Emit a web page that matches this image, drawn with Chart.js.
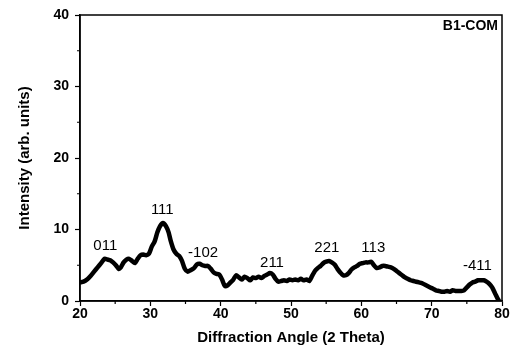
<!DOCTYPE html>
<html>
<head>
<meta charset="utf-8">
<script src="https://cdn.jsdelivr.net/npm/chart.js@4/dist/chart.umd.min.js"></script>
<style>
  html, body { margin: 0; padding: 0; background: #fff; }
  #wrap { width: 511px; height: 349px; position: relative; }
</style>
</head>
<body>
<div id="wrap"><canvas id="c" width="511" height="349"></canvas></div>
<script>
// 2-theta angles (degrees)
const angles = [20.0,20.5,21.0,21.5,22.0,22.5,23.0,23.5,23.9,24.3,24.7,25.1,25.5,25.8,26.2,26.6,27.0,27.4,27.8,28.2,28.6,29.0,29.4,29.8,30.2,30.6,31.0,31.4,31.8,32.2,32.6,32.9,33.3,33.7,34.1,34.5,34.9,35.3,35.7,36.2,36.6,37.0,37.4,37.8,38.2,38.6,39.0,39.4,39.8,40.2,40.6,41.0,41.4,41.8,42.2,42.6,43.0,43.4,43.8,44.2,44.6,45.0,45.4,45.8,46.2,46.6,47.0,47.4,47.8,48.2,48.6,49.0,49.4,49.8,50.2,50.6,51.0,51.4,51.8,52.2,52.6,53.0,53.4,53.8,54.2,54.6,55.0,55.4,55.8,56.2,56.6,57.0,57.4,57.8,58.2,58.6,59.0,59.4,59.8,60.2,60.6,61.0,61.4,61.8,62.2,62.6,63.0,63.4,63.8,64.2,64.6,65.0,65.4,65.8,66.2,66.6,67.0,67.4,67.8,68.2,68.6,69.0,69.4,69.8,70.2,70.6,71.0,71.4,71.8,72.2,72.6,73.0,73.4,73.8,74.2,74.6,75.0,75.4,75.8,76.2,76.6,77.0,77.4,77.8,78.2,78.6,79.0,79.4,79.6];
// Intensity (arb. units)
const intensity = [2.6,2.7,3.0,3.5,4.1,4.7,5.3,5.9,5.8,5.7,5.4,5.0,4.5,4.7,5.4,5.8,5.9,5.6,5.3,5.9,6.4,6.5,6.4,6.6,7.6,8.3,9.6,10.5,10.9,10.5,9.6,8.4,7.2,6.6,6.3,5.6,4.5,4.1,4.3,4.6,5.1,5.2,5.0,4.9,4.9,4.5,4.0,3.8,3.7,3.0,2.1,2.2,2.6,3.0,3.6,3.3,3.0,3.4,3.2,2.9,3.3,3.2,3.4,3.2,3.5,3.7,3.9,3.7,3.1,2.7,2.8,2.9,2.8,3.0,2.9,3.0,2.9,3.1,2.9,3.0,2.8,3.5,4.2,4.6,4.9,5.3,5.5,5.6,5.4,5.1,4.5,4.0,3.6,3.6,3.9,4.4,4.7,4.9,5.2,5.3,5.4,5.4,5.5,5.0,4.6,4.7,4.9,4.9,4.8,4.7,4.5,4.2,3.9,3.6,3.3,3.1,2.9,2.8,2.7,2.6,2.5,2.3,2.1,1.9,1.7,1.5,1.4,1.3,1.3,1.4,1.3,1.5,1.4,1.4,1.4,1.5,1.9,2.3,2.6,2.7,2.9,2.9,2.9,2.7,2.4,1.9,1.1,0.3,0.0];
// Peak (hkl) labels and their positions in data units
const peakLabels = ["011","111","-102","211","221","113","-411"];
const peakX = [23.6,31.7,37.5,47.3,55.1,61.7,76.5];
const peakY = [7.7,12.7,6.8,5.4,7.4,7.4,4.9];
const xTicks = [20,30,40,50,60,70,80];
const yTicks = [0,10,20,30,40];
const sampleName = "B1-COM";

const FONT = "Arial, 'Liberation Sans', Helvetica, sans-serif";

const decor = {
  id: 'decor',
  afterDraw(chart) {
    const ctx = chart.ctx, a = chart.chartArea;
    const xs = chart.scales.x, ys = chart.scales.y;
    ctx.save();
    ctx.strokeStyle = '#000';
    ctx.lineWidth = 1.5;
    ctx.strokeRect(a.left, a.top, a.right - a.left, a.bottom - a.top);
    // minor ticks
    ctx.lineWidth = 1.2;
    ctx.beginPath();
    for (let i = 0; i < xTicks.length - 1; i++) {
      const v = (xTicks[i] + xTicks[i + 1]) / 2;
      const px = xs.getPixelForValue(v);
      ctx.moveTo(px, a.bottom); ctx.lineTo(px, a.bottom + 3);
    }
    for (let i = 0; i < yTicks.length - 1; i++) {
      const v = (yTicks[i] + yTicks[i + 1]) / 2;
      const py = ys.getPixelForValue(v);
      ctx.moveTo(a.left, py); ctx.lineTo(a.left - 3, py);
    }
    ctx.stroke();
    // peak labels
    ctx.fillStyle = '#000';
    ctx.font = "15px " + FONT;
    ctx.textAlign = 'center';
    ctx.textBaseline = 'middle';
    for (let i = 0; i < peakLabels.length; i++) {
      ctx.fillText(peakLabels[i], xs.getPixelForValue(peakX[i]), ys.getPixelForValue(peakY[i]));
    }
    // sample name
    ctx.font = "bold 14px " + FONT;
    ctx.textAlign = 'right';
    ctx.fillText(sampleName, a.right - 4, a.top + 11);
    ctx.restore();
  }
};

new Chart(document.getElementById('c'), {
  type: 'scatter',
  data: {
    datasets: [{
      data: angles.map((x, i) => ({ x: x, y: intensity[i] })),
      showLine: true,
      borderColor: '#000',
      borderWidth: 4.5,
      pointRadius: 0,
      tension: 0.25,
      borderJoinStyle: 'round',
      borderCapStyle: 'round'
    }]
  },
  options: {
    responsive: false,
    animation: false,
    events: [],
    layout: { padding: { left: 0, top: 15, right: 9, bottom: 0 } },
    plugins: { legend: { display: false }, tooltip: { enabled: false } },
    scales: {
      x: {
        type: 'linear', min: 20, max: 80,
        afterBuildTicks: s => { s.ticks = xTicks.map(v => ({ value: v })); },
        afterFit: s => { s.height = 48; },
        ticks: { color: '#000', font: { family: FONT, size: 14, weight: 'bold' }, padding: 0, maxRotation: 0 },
        grid: { drawOnChartArea: false, tickLength: 5, color: '#000', tickWidth: 1.2 },
        border: { color: '#000', width: 1.5 },
        title: { display: true, text: 'Diffraction Angle (2 Theta)', color: '#000',
                 font: { family: FONT, size: 15, weight: 'bold' }, padding: { top: 0, bottom: 2 } }
      },
      y: {
        type: 'linear', min: 0, max: 40,
        afterBuildTicks: s => { s.ticks = yTicks.map(v => ({ value: v })); },
        afterFit: s => { s.width = 80; },
        ticks: { color: '#000', font: { family: FONT, size: 14, weight: 'bold' }, padding: 6 },
        grid: { drawOnChartArea: false, tickLength: 5, color: '#000', tickWidth: 1.2 },
        border: { color: '#000', width: 1.5 },
        title: { display: true, text: 'Intensity (arb. units)', color: '#000',
                 font: { family: FONT, size: 15, weight: 'bold' }, padding: { top: 16, bottom: 0 } }
      }
    }
  },
  plugins: [decor]
});
</script>
</body>
</html>
